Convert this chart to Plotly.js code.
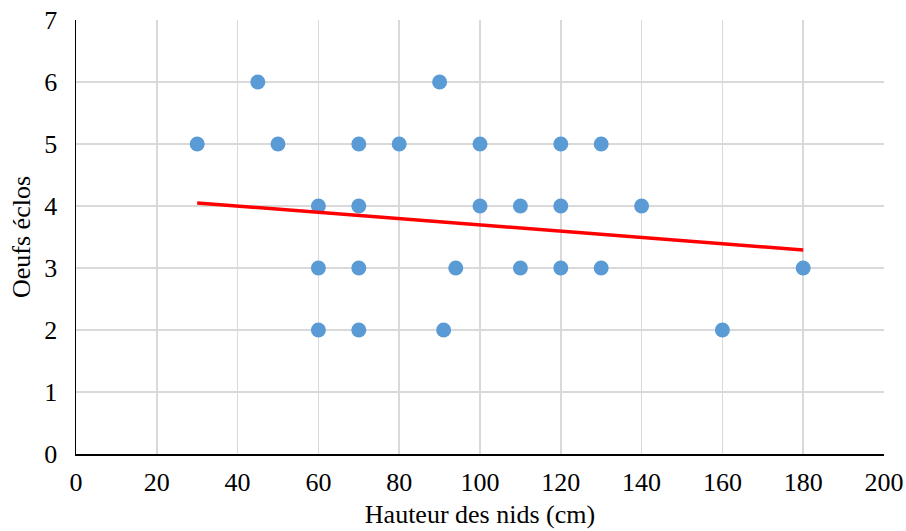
<!DOCTYPE html>
<html><head><meta charset="utf-8">
<script src="https://cdn.plot.ly/plotly-3.0.1.min.js"></script>
<style>html,body{margin:0;padding:0;background:#fff}</style>
</head><body>
<div id="chart" style="width:906px;height:531px"></div>
<script>
const hauteur = [30,45,50,60,60,60,70,70,70,70,80,90,91,94,100,100,110,110,120,120,120,130,130,140,160,180];
const oeufs   = [5, 6, 5, 4, 3, 2, 5, 4, 3, 2, 5, 6, 2, 3, 5, 4, 4, 3, 5, 4, 3, 5, 3, 4, 2, 3];
const trendX = [30, 180];
const trendY = [4.05, 3.29];
const xTicks = [0,20,40,60,80,100,120,140,160,180,200];
const yTicks = [0,1,2,3,4,5,6,7];

const font = {family: '"Liberation Serif", "Times New Roman", serif', color: '#000', size: 26};
Plotly.newPlot('chart', [
  {x: hauteur, y: oeufs, type: 'scatter', mode: 'markers',
   marker: {color: '#5B9BD5', size: 15}, showlegend: false, cliponaxis: false},
  {x: trendX, y: trendY, type: 'scatter', mode: 'lines',
   line: {color: '#FF0000', width: 3.5}, showlegend: false}
], {
  width: 906, height: 531,
  margin: {l: 76, r: 22, t: 20, b: 77},
  paper_bgcolor: '#fff', plot_bgcolor: '#fff',
  font: font,
  xaxis: {range: [0, 200], tickvals: xTicks, ticktext: xTicks.map(String),
          showgrid: true, gridcolor: '#d9d9d9', gridwidth: 1.5,
          showline: true, linecolor: '#000', linewidth: 1.5, zeroline: false,
          ticks: 'outside', ticklen: 4, tickcolor: 'rgba(0,0,0,0)', tickfont: font,
          title: {text: 'Hauteur des nids (cm)', font: font, standoff: 9}},
  yaxis: {range: [0, 7], tickvals: yTicks, ticktext: yTicks.map(String),
          showgrid: true, gridcolor: '#d9d9d9', gridwidth: 1.5,
          showline: true, linecolor: '#000', linewidth: 1.5, zeroline: false,
          ticks: 'outside', ticklen: 12, tickcolor: 'rgba(0,0,0,0)', tickfont: font,
          title: {text: 'Oeufs éclos', font: font, standoff: 6}}
}, {displayModeBar: false, staticPlot: true});
</script>
</body></html>
